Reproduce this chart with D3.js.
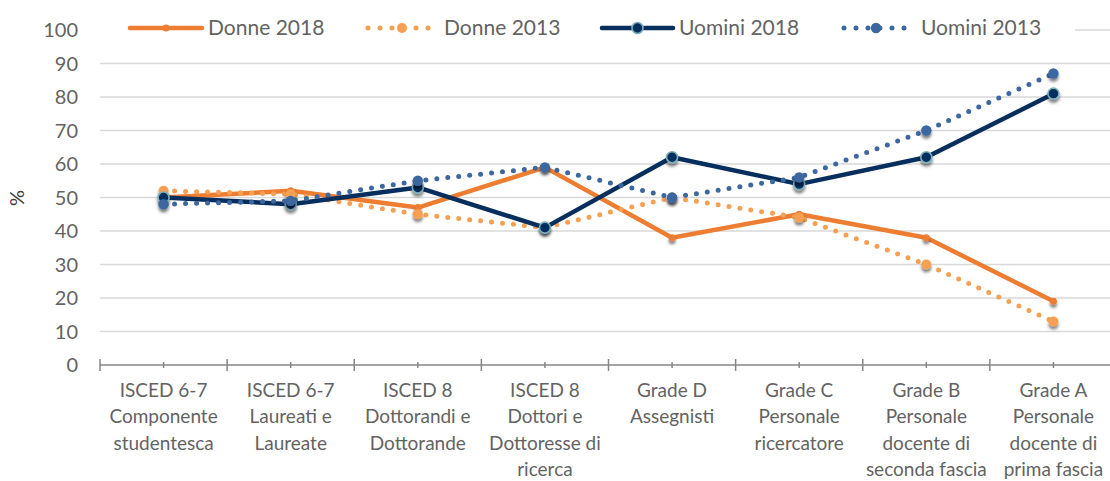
<!DOCTYPE html>
<html><head><meta charset="utf-8">
<script src="https://cdn.jsdelivr.net/npm/d3@7"></script>
<style>
html,body{margin:0;padding:0;background:#fff;}
svg{display:block;font-family:Lato,"Open Sans",sans-serif;}
</style></head>
<body>
<svg id="chart" width="1110" height="481"></svg>
<script>
const categories = [
  "ISCED 6-7\nComponente\nstudentesca",
  "ISCED 6-7\nLaureati e\nLaureate",
  "ISCED 8\nDottorandi e\nDottorande",
  "ISCED 8\nDottori e\nDottoresse di\nricerca",
  "Grade D\nAssegnisti",
  "Grade C\nPersonale\nricercatore",
  "Grade B\nPersonale\ndocente di\nseconda fascia",
  "Grade A\nPersonale\ndocente di\nprima fascia"
];
const donne2018 = [50, 52, 47, 59, 38, 45, 38, 19];
const donne2013 = [52, 51, 45, 41, 50, 44, 30, 13];
const uomini2018 = [50, 48, 53, 41, 62, 54, 62, 81];
const uomini2013 = [48, 49, 55, 59, 50, 56, 70, 87];
const yTicks = [0, 10, 20, 30, 40, 50, 60, 70, 80, 90, 100];
const seriesNames = ["Donne 2018", "Donne 2013", "Uomini 2018", "Uomini 2013"];

const styles = [
  {color:"#ED7D31", dotted:false, r:3.5, stroke:null},
  {color:"#F5A052", dotted:true,  r:5,   stroke:null},
  {color:"#062F5E", dotted:false, r:5.5, stroke:"#7FAEBB"},
  {color:"#3D679F", dotted:true,  r:5.2, stroke:null}
];
const seriesValues = [donne2018, donne2013, uomini2018, uomini2013];

const svg = d3.select("#chart");
const defs = svg.append("defs");
const f = defs.append("filter").attr("id","sh").attr("x","-50%").attr("y","-50%").attr("width","200%").attr("height","250%");
f.append("feDropShadow").attr("dx",0).attr("dy",3).attr("stdDeviation",1.8).attr("flood-color","#000").attr("flood-opacity",0.5);

const x = d3.scaleBand().domain(d3.range(categories.length)).range([100, 1117]);
const y = d3.scaleLinear().domain([0, 100]).range([365, 30]);
const cx = i => x(i) + x.bandwidth()/2;

// gridlines
svg.append("g").selectAll("line").data(yTicks.filter(d => d > 0)).join("line")
  .attr("x1", 100).attr("x2", 1110)
  .attr("y1", d => y(d)).attr("y2", d => y(d))
  .attr("stroke", "#D9D9D9").attr("stroke-width", 1.5);

// y tick labels
svg.append("g").selectAll("text").data(yTicks).join("text")
  .attr("x", 78).attr("y", d => y(d)).attr("dy", "0.35em")
  .attr("text-anchor", "end").attr("fill", "#636363")
  .attr("font-size", 20).text(d => d);

// y title
svg.append("text").attr("transform", "translate(24,198) rotate(-90)")
  .attr("text-anchor", "middle").attr("fill", "#404040").attr("font-size", 20).text("%");

// x axis
const xa = svg.append("g");
xa.append("line").attr("x1", 100).attr("x2", 1110).attr("y1", 365).attr("y2", 365)
  .attr("stroke", "#868686").attr("stroke-width", 1.5);
const majors = d3.range(categories.length + 1).map(i => i < categories.length ? x(i) : x(i-1) + x.bandwidth());
xa.selectAll("line.maj").data(majors).join("line").attr("class","maj")
  .attr("x1", d => d).attr("x2", d => d).attr("y1", 359).attr("y2", 371)
  .attr("stroke", "#868686").attr("stroke-width", 1.5);
xa.selectAll("line.min").data(d3.range(categories.length)).join("line").attr("class","min")
  .attr("x1", d => cx(d)).attr("x2", d => cx(d)).attr("y1", 362).attr("y2", 368)
  .attr("stroke", "#868686").attr("stroke-width", 1.5);

const lbl = xa.selectAll("text").data(categories).join("text")
  .attr("text-anchor", "middle").attr("fill", "#636363").attr("font-size", 19);
lbl.each(function(d, i) {
  const t = d3.select(this);
  d.split("\n").forEach((ln, k) => {
    t.append("tspan").attr("x", cx(i)).attr("y", 390 + k * 26.5).attr("dy", "0.35em").text(ln);
  });
});

// lines
const line = d3.line().x((d, i) => cx(i)).y(d => y(d));
seriesValues.forEach((vals, s) => {
  const st = styles[s];
  const g = svg.append("g");
  g.append("path").datum(vals).attr("d", line).attr("fill", "none")
    .attr("stroke", st.color).attr("stroke-width", st.dotted ? 5 : 4.5)
    .attr("stroke-linecap", "round").attr("stroke-linejoin", "round")
    .attr("stroke-dasharray", st.dotted ? "0 11" : null);
  g.selectAll("circle").data(vals).join("circle")
    .attr("cx", (d, i) => cx(i)).attr("cy", d => y(d)).attr("r", st.r)
    .attr("fill", st.color)
    .attr("stroke", st.stroke || "none").attr("stroke-width", st.stroke ? 1.6 : 0)
    .attr("filter", "url(#sh)");
});

// legend
const leg = svg.append("g");
leg.append("rect").attr("x", 100).attr("y", 14).attr("width", 975).attr("height", 30).attr("fill", "#fff");
const legPos = [
  {x1:130, x2:202, m:166, tx:208},
  {x1:368, x2:430, m:402, tx:444},
  {x1:602, x2:673, m:637.5, tx:679},
  {x1:844, x2:907, m:876, tx:921}
];
seriesNames.forEach((name, s) => {
  const st = styles[s], p = legPos[s], ly = 28;
  leg.append("line").attr("x1", p.x1).attr("x2", p.x2).attr("y1", ly).attr("y2", ly)
    .attr("stroke", st.color).attr("stroke-width", st.dotted ? 5 : 4.5)
    .attr("stroke-linecap", "round")
    .attr("stroke-dasharray", st.dotted ? "0 12" : null);
  leg.append("circle").attr("cx", p.m).attr("cy", ly).attr("r", st.r)
    .attr("fill", st.color).attr("stroke", st.stroke || "none").attr("stroke-width", st.stroke ? 1.6 : 0);
  leg.append("text").attr("x", p.tx).attr("y", ly).attr("dy", "0.35em")
    .attr("fill", "#636363").attr("font-size", 21).text(name);
});
</script>
</body></html>
